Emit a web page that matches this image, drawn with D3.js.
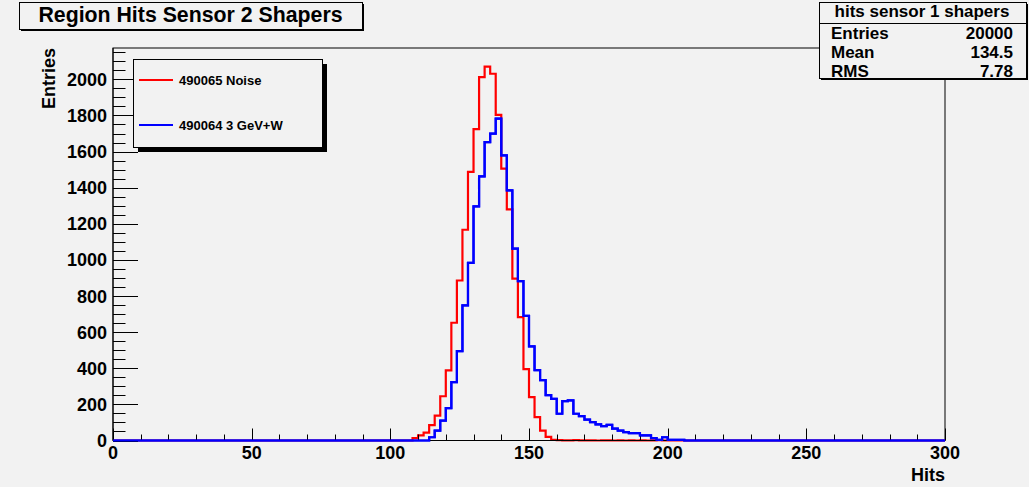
<!DOCTYPE html>
<html><head><meta charset="utf-8">
<script src="https://cdn.jsdelivr.net/npm/d3@7"></script>
<style>
html,body{margin:0;padding:0;background:#f2f2f2;}
svg{display:block;font-family:"Liberation Sans",Arial,Helvetica,sans-serif;font-weight:bold;}
</style>
</head><body>
<svg id="c" width="1029" height="487"></svg>
<script>
// ---------- data ----------
const titleText = "Region Hits Sensor 2 Shapers";
const xAxisTitle = "Hits";
const yAxisTitle = "Entries";
const xRange = [0, 300];
const binWidth = 2;
const seriesNames = ["490065 Noise", "490064 3 GeV+W"];
const seriesColors = ["#ff0000", "#0000ff"];
// red: noise run, first bin low edge 108
const noiseStart = 108;
const noiseCounts = [13, 28, 44, 85, 138, 245, 388, 652, 886, 1167, 1487, 1724, 2012, 2070,
  2031, 1803, 1505, 1280, 896, 683, 395, 240, 129, 55, 20, 4,
  2, 1, 1, 2, 1, 1, 1, 0, 1, 1, 0, 1, 0, 1, 0, 1, 0, 1, 2, 0];
// blue: 3 GeV + W run, first bin low edge 114
const signalStart = 114;
const signalCounts = [18, 55, 110, 179, 323, 495, 748, 984, 1296, 1463, 1652, 1699, 1782,
  1579, 1385, 1062, 883, 690, 521, 390, 334, 251, 231, 148, 218, 222, 148, 135, 116, 102,
  89, 80, 86, 66, 55, 46, 41, 41, 28, 28, 13, 4, 18, 4, 4, 4];
const xTickValues = [0, 50, 100, 150, 200, 250, 300];
const yTickValues = [0, 200, 400, 600, 800, 1000, 1200, 1400, 1600, 1800, 2000];
const statsTitle = "hits sensor 1 shapers";
const statsLabels = ["Entries", "Mean", "RMS"];
const statsValues = ["20000", "134.5", "7.78"];

// ---------- build histograms ----------
const nBins = (xRange[1] - xRange[0]) / binWidth;
function fullHist(start, counts) {
  const out = [];
  for (let i = 0; i < nBins; i++) {
    const lo = xRange[0] + i * binWidth;
    const k = Math.round((lo - start) / binWidth);
    out.push({ lo: lo, n: (k >= 0 && k < counts.length) ? counts[k] : 0 });
  }
  return out;
}
const hists = [fullHist(noiseStart, noiseCounts), fullHist(signalStart, signalCounts)];
const yMax = 1.05 * d3.max(hists.flat(), d => d.n);

// ---------- layout ----------
const svg = d3.select("#c");
const W = 1029, H = 487;
const fr = { l: 113, r: 945, t: 48, b: 440.5 };
const bg = "#f2f2f2";
svg.append("rect").attr("width", W).attr("height", H).attr("fill", bg);

const x = d3.scaleLinear().domain(xRange).range([fr.l, fr.r]);
const y = d3.scaleLinear().domain([0, yMax]).range([fr.b, fr.t]);

// frame
svg.append("rect").attr("x", fr.l).attr("y", fr.t)
  .attr("width", fr.r - fr.l).attr("height", fr.b - fr.t)
  .attr("fill", "none").attr("stroke", "#000").attr("stroke-width", 1);

// histograms
const line = d3.line().x(d => x(d[0])).y(d => y(d[1])).curve(d3.curveStepAfter);
hists.forEach((h, i) => {
  const pts = h.map(b => [b.lo, b.n]);
  pts.push([xRange[1], h[h.length - 1].n]);
  svg.append("path").attr("d", line(pts)).attr("fill", "none")
    .attr("stroke", seriesColors[i]).attr("stroke-width", 2.2)
    .attr("stroke-linejoin", "miter");
});

// axes (ROOT-style ticks pointing inward)
const xMinor = d3.range(xRange[0], xRange[1] + 0.001, 10);
const yMinor = d3.range(0, yMax, 50);
const axG = svg.append("g").attr("stroke", "#000").attr("stroke-width", 1);
axG.append("line").attr("x1", fr.l).attr("x2", fr.r).attr("y1", fr.b).attr("y2", fr.b);
axG.append("line").attr("x1", fr.l).attr("x2", fr.l).attr("y1", fr.b).attr("y2", fr.t);
xMinor.forEach(v => {
  const major = xTickValues.includes(v);
  axG.append("line").attr("x1", Math.round(x(v)) + 0.5).attr("x2", Math.round(x(v)) + 0.5)
    .attr("y1", fr.b).attr("y2", fr.b - (major ? 12 : 6));
});
yMinor.forEach(v => {
  const major = yTickValues.includes(v);
  axG.append("line").attr("y1", Math.round(y(v)) + 0.5).attr("y2", Math.round(y(v)) + 0.5)
    .attr("x1", fr.l).attr("x2", fr.l + (major ? 25 : 12.5));
});

// blue histogram overlays the axis baseline
const sigPts = hists[1].map(b => [b.lo, b.n]);
sigPts.push([xRange[1], 0]);
svg.append("path").attr("d", line(sigPts))
  .attr("fill", "none").attr("stroke", seriesColors[1]).attr("stroke-width", 2.2);

// tick labels
const tl = svg.append("g").attr("font-size", 18).attr("fill", "#000");
xTickValues.forEach(v => {
  tl.append("text").attr("x", x(v)).attr("y", 459)
    .attr("text-anchor", "middle").text(v);
});
yTickValues.forEach(v => {
  tl.append("text").attr("x", 107).attr("y", y(v) + 6.5)
    .attr("text-anchor", "end").text(v);
});

// axis titles
svg.append("text").attr("x", fr.r).attr("y", 481).attr("text-anchor", "end")
  .attr("font-size", 18).text(xAxisTitle);
svg.append("text").attr("transform", `translate(55,${fr.t}) rotate(-90)`)
  .attr("text-anchor", "end").attr("font-size", 18).text(yAxisTitle);

// pave helper with shadow
function pave(x0, y0, w, h, sh) {
  svg.append("rect").attr("x", x0 + sh).attr("y", y0 + sh).attr("width", w).attr("height", h).attr("fill", "#000");
  svg.append("rect").attr("x", x0 + 0.5).attr("y", y0 + 0.5).attr("width", w).attr("height", h)
    .attr("fill", bg).attr("stroke", "#000").attr("stroke-width", 1);
}

// title
pave(19, 2, 343, 27, 2);
svg.append("text").attr("x", 190.5).attr("y", 22).attr("text-anchor", "middle")
  .attr("font-size", 21.3).text(titleText);

// legend
pave(133, 59, 189, 88, 5);
const legY = [80, 125];
seriesNames.forEach((s, i) => {
  svg.append("line").attr("x1", 139).attr("x2", 173).attr("y1", legY[i]).attr("y2", legY[i])
    .attr("stroke", seriesColors[i]).attr("stroke-width", 2.2);
  svg.append("text").attr("x", 179).attr("y", legY[i] + 5).attr("font-size", 13).text(s);
});

// stats box
pave(819, 2, 207, 76, 2);
svg.append("line").attr("x1", 819).attr("x2", 1026).attr("y1", 23.5).attr("y2", 23.5)
  .attr("stroke", "#000").attr("stroke-width", 1);
svg.append("text").attr("x", 922).attr("y", 17).attr("text-anchor", "middle")
  .attr("font-size", 17).text(statsTitle);
const rowY = [39, 58, 77];
statsLabels.forEach((s, i) => {
  svg.append("text").attr("x", 831).attr("y", rowY[i]).attr("font-size", 17).text(s);
  svg.append("text").attr("x", 1013).attr("y", rowY[i]).attr("text-anchor", "end")
    .attr("font-size", 17).text(statsValues[i]);
});
</script>
</body></html>
